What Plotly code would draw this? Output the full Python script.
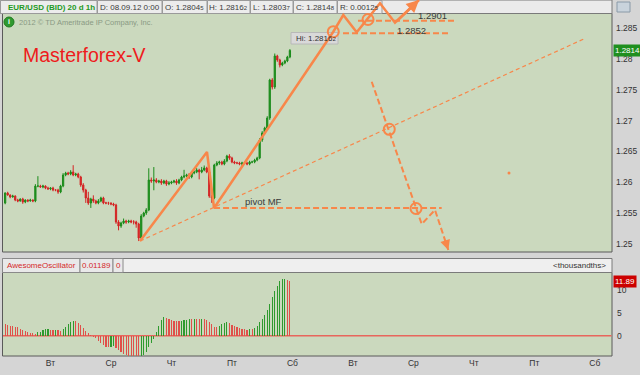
import plotly.graph_objects as go

W, H = 640, 375
FONT = "Liberation Sans, Arial, sans-serif"

# ---------------- data ----------------
hours = list(range(-18, 96))
closes = [
    1.25825, 1.25792, 1.25760, 1.25776, 1.25711, 1.25695, 1.25727, 1.25679, 1.25711, 1.25695,
    1.25711, 1.25695, 1.25938, 1.25938, 1.25922, 1.25938, 1.25906, 1.25890, 1.25906, 1.25873,
    1.25873, 1.25841, 1.25938, 1.26117, 1.26149, 1.26133, 1.26166, 1.26117, 1.26133, 1.26084,
    1.25955, 1.25873, 1.25744, 1.25662, 1.25727, 1.25695, 1.25662, 1.25695, 1.25744, 1.25662,
    1.25662, 1.25662, 1.25646, 1.25630, 1.25354, 1.25289, 1.25338, 1.25370, 1.25354, 1.25370,
    1.25354, 1.25354, 1.25321, 1.25094, 1.25451, 1.25500, 1.25549, 1.26036, 1.26019, 1.26036,
    1.26003, 1.26019, 1.25987, 1.26019, 1.25971, 1.25987, 1.26003, 1.26019, 1.25987, 1.26036,
    1.26084, 1.26101, 1.26117, 1.26084, 1.26149, 1.26166, 1.26198, 1.26166, 1.26198, 1.26231,
    1.26166, 1.25776, 1.25744, 1.26279, 1.26312, 1.26328, 1.26295, 1.26344, 1.26425, 1.26393,
    1.26328, 1.26312, 1.26312, 1.26295, 1.26312, 1.26312, 1.26295, 1.26328, 1.26328, 1.26360,
    1.26393, 1.26685, 1.26799, 1.26880, 1.27042, 1.27659, 1.27545, 1.28049, 1.27984, 1.27903,
    1.27935, 1.27968, 1.28032, 1.28140,
]
first_open = 1.25662
wick_up_pips = [
    1, 2, 1, 2, 1, 2, 1, 2, 1, 1,
    2, 1, 3, 16, 2, 2, 1, 2, 1, 2,
    1, 2, 2, 3, 2, 2, 3, 11, 2, 2,
    2, 3, 2, 10, 2, 6, 2, 3, 2, 2,
    2, 2, 1, 2, 2, 3, 2, 4, 2, 2,
    2, 3, 2, 2, 3, 2, 3, 19, 4, 21,
    3, 2, 3, 2, 2, 3, 2, 2, 3, 2,
    2, 10, 2, 3, 2, 2, 3, 2, 5, 4,
    2, 2, 2, 2, 3, 2, 2, 3, 2, 3,
    2, 2, 2, 2, 2, 2, 2, 2, 2, 2,
    2, 3, 3, 2, 3, 2, 3, 4, 2, 2,
    2, 2, 2, 2,
]
wick_dn_pips = [
    2, 1, 2, 1, 2, 2, 1, 3, 2, 2,
    1, 2, 2, 2, 1, 2, 2, 1, 2, 2,
    2, 3, 2, 2, 2, 2, 2, 2, 2, 2,
    3, 4, 8, 3, 8, 3, 2, 2, 2, 2,
    2, 3, 2, 2, 3, 7, 3, 2, 3, 2,
    2, 4, 6, 5, 3, 2, 3, 2, 3, 15,
    2, 2, 3, 2, 3, 2, 2, 2, 3, 2,
    2, 2, 2, 3, 2, 2, 2, 12, 2, 2,
    2, 3, 8, 2, 2, 3, 2, 2, 2, 3,
    2, 2, 2, 2, 3, 2, 2, 2, 2, 2,
    2, 2, 3, 2, 3, 3, 4, 3, 3, 4,
    2, 2, 2, 2,
]
ao_thousandths = [
    2.5, 2.4, 2.2, 2.1, 2.0, 1.8, 1.5, 1.2, 1.0, 0.8,
    0.6, 0.5, 0.4, 0.7, 0.9, 1.2, 1.4, 1.5, 1.3, 1.2,
    1.3, 1.2, 1.0, 1.4, 2.0, 2.6, 3.0, 3.3, 3.1, 2.8,
    2.3, 1.7, 1.1, 0.5, 0.1, -0.2, -0.6, -1.1, -1.6, -2.0,
    -2.4, -2.5, -2.4, -2.3, -2.6, -3.1, -3.6, -3.9, -4.2, -4.4,
    -4.6, -4.7, -4.7, -4.8, -4.5, -4.2, -3.5, -2.5, -1.6, -0.7,
    0.8, 2.2, 3.4, 4.0, 3.9, 3.7, 3.5, 3.3, 3.3, 3.2,
    3.3, 3.4, 3.5, 3.6, 3.6, 3.7, 3.7, 3.6, 3.7, 3.6,
    3.4, 3.0, 2.5, 2.0, 1.9, 2.1, 2.5, 2.8, 3.0, 2.7,
    2.4, 2.2, 1.8, 1.6, 1.4, 1.4, 1.3, 1.4, 1.4, 1.7,
    2.2, 2.9, 3.6, 4.4, 5.5, 7.0, 8.5, 9.8, 10.9, 11.8,
    12.3, 12.4, 12.1, 11.89,
]

day_ticks = [0, 24, 48, 72, 96, 120, 144, 168, 192, 216]
day_labels = ["Вт", "Ср", "Чт", "Пт", "Сб", "Вт", "Ср", "Чт", "Пт", "Сб"]
price_ticks = [1.25, 1.255, 1.26, 1.265, 1.27, 1.275, 1.28, 1.285]
price_labels = ["1.25", "1.255", "1.26", "1.265", "1.27", "1.275", "1.28", "1.285"]
ao_ticks = [0, 5, 10]
ao_labels = ["0", "5", "10"]
last_price = 1.2814
last_price_label = "1.2814"
last_ao = 11.89
last_ao_label = "11.89"

header_title = "EUR/USD (BID) 20 d 1h"
header_fields = ["D: 08.09.12 0:00", "O: 1.2804", "H: 1.2816", "L: 1.2803", "C: 1.2814", "R: 0.0012"]
header_small = ["", "5", "2", "7", "8", "5"]
hi_label = "Hi: 1.2816"
hi_small = "2"

# analyst markup (hours, price)
wave_h = [35.52, 62.10, 64.90, 112.22, 116.19, 121.51, 130.75, 136.71, 146.23]
wave_p = [1.25045, 1.26490, 1.25581, 1.28443, 1.28714, 1.28433, 1.28904, 1.28589, 1.28958]
trend_h = [35.52, 212.50]
trend_p = [1.25045, 1.28341]
pivot_h = [64.90, 155.24]
pivot_p = [1.25581, 1.25581]
drop_h = [127.46, 145.04, 147.30, 152.58, 157.86]
drop_p = [1.27631, 1.25573, 1.25321, 1.25549, 1.24899]
lvl_a_h = [116.07, 157.74]
lvl_a_p = [1.28417, 1.28417]
lvl_b_h = [122.02, 161.31]
lvl_b_p = [1.28622, 1.28622]
ring_h = [112.22, 126.00, 134.44, 145.04]
ring_p = [1.28443, 1.28641, 1.26859, 1.25573]
dot_h = [181.94]
dot_p = [1.26149]
note_text = ["pivot MF", "1.2901", "1.2852"]
note_h = [76.39, 151.39, 143.45]
note_p = [1.25679, 1.28714, 1.28455]

# ---------------- pixel geometry ----------------
X0, SX = 50.5, 2.52        # pixel of hour 0, pixels per hour
Y0, SY = 59.0, 6160.0      # pixel of price 1.28, pixels per price unit
AO0, SAO = 335.7, 4.6      # pixel of AO zero, pixels per thousandth


def hx(px):
    return (px - X0) / SX


def pr(py):
    return 1.28 - (py - Y0) / SY


def fx(px):
    return px / W


def fy(py):
    return 1 - py / H


opens = [first_open] + closes[:-1]
highs = [max(o, c) + u * 0.0001 for o, c, u in zip(opens, closes, wick_up_pips)]
lows = [min(o, c) - d * 0.0001 for o, c, d in zip(opens, closes, wick_dn_pips)]
ao_colors = ["#2e9a2e" if i > 0 and ao_thousandths[i] > ao_thousandths[i - 1] else "#e0504a"
             for i in range(len(ao_thousandths))]

ORANGE = "#f8874a"
GREEN = "#1c8c1c"
RED = "#d42424"
SAGE = "#cbd9be"

fig = go.Figure()

fig.add_trace(go.Candlestick(
    x=hours, open=opens, high=highs, low=lows, close=closes,
    increasing=dict(line=dict(color=GREEN, width=1), fillcolor=GREEN),
    decreasing=dict(line=dict(color=RED, width=1), fillcolor=RED),
    whiskerwidth=0, xaxis="x", yaxis="y", showlegend=False, hoverinfo="skip",
))

fig.add_trace(go.Bar(
    x=hours, y=ao_thousandths, width=0.45, marker=dict(color=ao_colors, line=dict(width=0)),
    xaxis="x2", yaxis="y2", showlegend=False, hoverinfo="skip",
))


def line(xs, ys, width, dash=None):
    fig.add_trace(go.Scatter(
        x=xs, y=ys, mode="lines", xaxis="x3", yaxis="y3",
        line=dict(color=ORANGE, width=width, dash=dash), showlegend=False, hoverinfo="skip",
    ))


line(trend_h, trend_p, 1.2, "4px,3px")
line(pivot_h, pivot_p, 2, "6px,3px")
line(lvl_a_h, lvl_a_p, 2, "6px,3px")
line(lvl_b_h, lvl_b_p, 2, "6px,3px")
line(drop_h, drop_p, 2, "6px,3px")
line(wave_h, wave_p, 2.5)
fig.add_trace(go.Scatter(
    x=ring_h, y=ring_p, mode="markers", xaxis="x3", yaxis="y3",
    marker=dict(symbol="circle-open", size=11, color=ORANGE, line=dict(width=2, color=ORANGE)),
    showlegend=False, hoverinfo="skip",
))
fig.add_trace(go.Scatter(
    x=dot_h, y=dot_p, mode="markers", xaxis="x3", yaxis="y3",
    marker=dict(symbol="circle", size=3, color=ORANGE), showlegend=False, hoverinfo="skip",
))

shapes = []


def rect(x0, y0, x1, y1, fill, line_color="#8c8c8c", lw=1):
    shapes.append(dict(type="rect", xref="paper", yref="paper", x0=fx(x0), x1=fx(x1),
                       y0=fy(y1), y1=fy(y0), fillcolor=fill,
                       line=dict(color=line_color, width=lw), layer="below"))


# panels
rect(2.5, 13.5, 612, 252, SAGE, "#5a5a5a", 1)
rect(2.5, 272.5, 612, 356, SAGE, "#5a5a5a", 1)
# AO zero line
shapes.append(dict(type="line", xref="paper", yref="y2", x0=fx(3), x1=fx(611.5), y0=0, y1=0,
                   line=dict(color="#e8665c", width=1.5), layer="below"))
# top header
rect(0, 0, 612, 13.5, "#ebebeb", "#7a7a7a", 1)
box_edges = [0, 97, 162, 207, 250, 293, 337, 382]
for a, b in zip(box_edges[:-1], box_edges[1:]):
    rect(a + 0.5, 0.5, b, 13.5, "#ececec", "#9a9a9a", 1)
# AO header
rect(2.5, 258.5, 612, 272.5, "#efefef", "#7a7a7a", 1)
ao_edges = [2.5, 80, 113, 123]
for a, b in zip(ao_edges[:-1], ao_edges[1:]):
    rect(a, 258.5, b, 272.5, "#e9e9e9", "#8a8a8a", 1)
# Hi box
rect(291, 32.5, 338, 44, "#d9d9d9", "#b8b8b8", 1)
# small icons
shapes.append(dict(type="circle", xref="paper", yref="paper", x0=fx(4), x1=fx(14), y0=fy(27), y1=fy(17),
                   fillcolor="#2f9a2f", line=dict(color="#1f7a1f", width=1), layer="below"))
rect(617, 2, 630, 12, "#c9d3dc", "#8a9aa8", 1)

ann = []


def text(x, y, s, size=8, color="#333333", xanchor="center", bold=False, **kw):
    if bold:
        s = "<b>" + s + "</b>"
    ann.append(dict(xref="paper", yref="paper", x=fx(x), y=fy(y), text=s, showarrow=False,
                    xanchor=xanchor, yanchor="middle", font=dict(family=FONT, size=size, color=color), **kw))


small = "<span style='font-size:6px'>{}</span>"
text(6, 7, header_title, 8, "#1f9a1f", "left", bold=True)
for a, b, s, sm in zip(box_edges[1:-1], box_edges[2:], header_fields, header_small):
    text((a + b) / 2, 7, s + (small.format(sm) if sm else ""), 8, "#3a3a3a")
text(9, 22, "i", 7, "white", bold=True)
text(17, 22.5, "2012 © TD Ameritrade IP Company, Inc.", 7.5, "#8a9a84", "left")
text(21, 55, "Masterforex-V", 19.5, "#ee1c1c", "left")
text(294, 38.5, hi_label + small.format(hi_small), 8, "#333333", "left")
text(41, 265.5, "AwesomeOscillator", 8, "#d42a2a")
text(96.5, 265.5, "0.01189", 8, "#d42a2a")
text(118, 265.5, "0", 8, "#d42a2a")
text(608, 265.5, "&lt;thousandths&gt;", 8, "#333333", "right")

# right-hand axis labels
for v, s in zip(price_ticks, price_labels):
    ann.append(dict(xref="paper", yref="y", x=fx(614), y=v, text=s, showarrow=False,
                    xanchor="left", yanchor="middle", font=dict(family=FONT, size=8.5, color="#333333")))
for v, s in zip(ao_ticks, ao_labels):
    ann.append(dict(xref="paper", yref="y2", x=fx(615), y=v, text=s, showarrow=False,
                    xanchor="left", yanchor="middle", font=dict(family=FONT, size=8.5, color="#333333")))

# value boxes on the right axes
ann.append(dict(xref="paper", yref="y", x=fx(613), y=last_price, text=last_price_label, showarrow=False,
                xanchor="left", yanchor="middle", bgcolor="#1f8f1f", borderpad=1,
                font=dict(family=FONT, size=8, color="white")))
ann.append(dict(xref="paper", yref="y2", x=fx(613), y=last_ao, text=last_ao_label, showarrow=False,
                xanchor="left", yanchor="middle", bgcolor="#cc0000", borderpad=1,
                font=dict(family=FONT, size=8, color="white")))

# markup notes
for s, h_, p_ in zip(note_text, note_h, note_p):
    ann.append(dict(xref="x3", yref="y3", x=h_, y=p_, text=s, showarrow=False,
                    xanchor="left" if s == "pivot MF" else "center", yanchor="middle",
                    font=dict(family=FONT, size=9.5, color="#3a3a3a")))

# arrow heads
ann.append(dict(xref="x3", yref="y3", axref="x3", ayref="y3", x=wave_h[-1], y=wave_p[-1],
                ax=wave_h[-2], ay=wave_p[-2], text="", showarrow=True, arrowhead=2,
                arrowsize=1, arrowwidth=2.5, arrowcolor=ORANGE, standoff=0))
ann.append(dict(xref="x3", yref="y3", axref="x3", ayref="y3", x=drop_h[-1], y=drop_p[-1],
                ax=drop_h[-1] + 0.2 * (drop_h[-2] - drop_h[-1]), ay=drop_p[-1] + 0.2 * (drop_p[-2] - drop_p[-1]),
                text="", showarrow=True, arrowhead=2, arrowsize=1, arrowwidth=2, arrowcolor=ORANGE, standoff=0))

tickfont = dict(family=FONT, size=8.5, color="#333333")
fig.update_layout(
    width=W, height=H, margin=dict(l=0, r=0, t=0, b=0),
    paper_bgcolor="#d5d5d5", plot_bgcolor="rgba(0,0,0,0)",
    font=dict(family=FONT), showlegend=False, bargap=0,
    shapes=shapes, annotations=ann,
    xaxis=dict(domain=[fx(3), fx(612)], range=[hx(3), hx(612)], visible=False,
               rangeslider=dict(visible=False), anchor="y"),
    yaxis=dict(domain=[fy(252), fy(14)], range=[pr(252), pr(14)], side="right", anchor="x",
               showticklabels=False, showgrid=False, zeroline=False, showline=False, ticks=""),
    xaxis2=dict(domain=[fx(3), fx(612)], range=[hx(3), hx(612)], anchor="y2",
                tickvals=day_ticks, ticktext=day_labels, showgrid=False, zeroline=False,
                showline=False, ticks="", tickfont=tickfont),
    yaxis2=dict(domain=[fy(356), fy(272)], range=[(AO0 - 356) / SAO, (AO0 - 272) / SAO], anchor="x2",
                side="right", showticklabels=False, showgrid=False,
                zeroline=False, showline=False, ticks=""),
    xaxis3=dict(domain=[0, 1], range=[hx(0), hx(W)], anchor="y3", visible=False),
    yaxis3=dict(domain=[0, 1], range=[pr(H), pr(0)], anchor="x3", visible=False),
)

fig.write_html("out.html", config={"displayModeBar": False, "staticPlot": True},
               post_script="document.body.style.margin='0';document.body.style.overflow='hidden';")
